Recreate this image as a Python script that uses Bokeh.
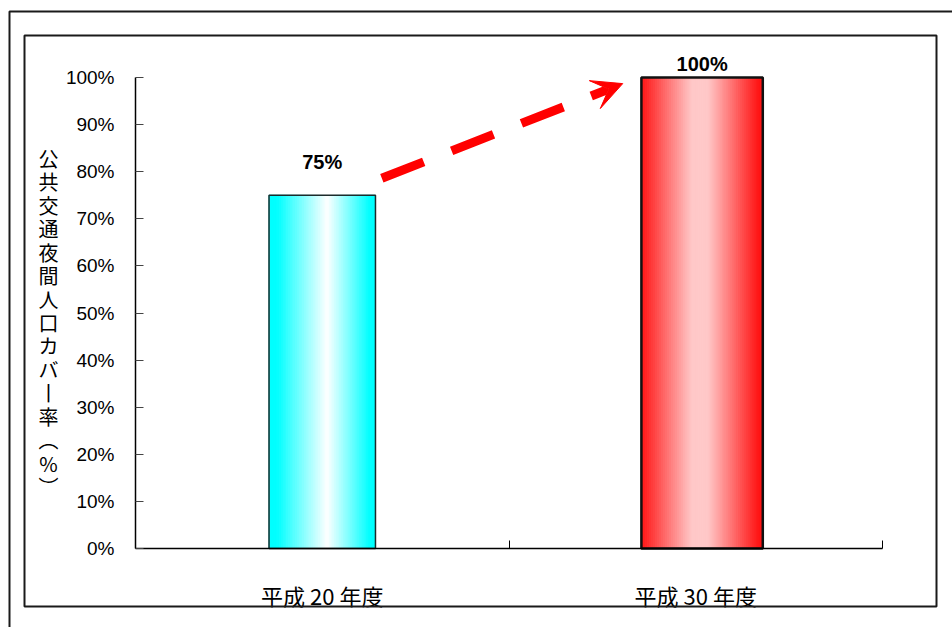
import numpy as np
from bokeh.plotting import figure
from bokeh.models import (Range1d, FixedTicker, PrintfTickFormatter, Arrow, VeeHead,
                          Label, LabelSet, BoxAnnotation, ColumnDataSource)
from bokeh.core.properties import value
from bokeh.embed import file_html
from bokeh.resources import INLINE

# --- data -------------------------------------------------------------
categories = ["平成 20 年度", "平成 30 年度"]
coverage = [75, 100]                       # %
value_labels = ["75%", "100%"]
y_ticks = [0, 10, 20, 30, 40, 50, 60, 70, 80, 90, 100]
y_title = "公共交通夜間人口カバー率（%）"

# --- styling ----------------------------------------------------------
NUM_FONT = "Liberation Sans"
JP_FONT = "Noto Sans CJK JP"
W, H = 952, 627
AX_LEFT, AX_RIGHT = 135, 882       # pixel columns of the category axis ends
AX_TOP, AX_ZERO = 77, 548          # pixel rows of the top tick and of zero
bar_width = [0.285, 0.325]
bar_shift = [0.0, 0.017]
bar_line_width = [1.5, 2.5]
bar_line_color = ["#1c2b2b", "#111111"]
label_offset = [33, 14]
gradients = [
    [(0.0, (0, 255, 255)), (0.08, (0, 255, 255)), (0.55, (255, 255, 255)),
     (0.95, (0, 255, 255)), (1.0, (0, 255, 255))],
    [(0.0, (255, 20, 20)), (0.42, (255, 200, 200)), (0.55, (255, 200, 200)),
     (0.97, (255, 20, 20)), (1.0, (255, 20, 20))],
]
N_STRIPS = 60


def grad_color(stops, t):
    for (t0, c0), (t1, c1) in zip(stops[:-1], stops[1:]):
        if t0 <= t <= t1:
            f = 0.0 if t1 == t0 else (t - t0) / (t1 - t0)
            r, g, b = (int(round(a + (bb - a) * f)) for a, bb in zip(c0, c1))
            return f"#{r:02x}{g:02x}{b:02x}"
    r, g, b = stops[-1][1]
    return f"#{r:02x}{g:02x}{b:02x}"


n = len(categories)
y_max = y_ticks[-1]
centers = [i + 0.5 + s for i, s in enumerate(bar_shift)]

# the plotting frame spans the whole canvas; the axes sit at fixed locations
xs = (AX_RIGHT - AX_LEFT) / n
ys = (AX_ZERO - AX_TOP) / y_max
x_range = Range1d(-AX_LEFT / xs, n + (W - AX_RIGHT) / xs)
y_range = Range1d(-(H - AX_ZERO) / ys, y_max + AX_TOP / ys)

p = figure(width=W, height=H, output_backend="svg", toolbar_location=None,
           x_range=x_range, y_range=y_range, min_border=0)
p.title.visible = False
p.outline_line_color = None
p.grid.visible = False
p.background_fill_color = "white"
p.border_fill_color = "white"

# gradient-filled bars drawn as thin vertical strips
for k in range(n):
    left = centers[k] - bar_width[k] / 2
    edges = np.linspace(left, left + bar_width[k], N_STRIPS + 1)
    ts = (np.arange(N_STRIPS) + 0.5) / N_STRIPS
    cols = [grad_color(gradients[k], t) for t in ts]
    p.quad(left=edges[:-1], right=edges[1:], bottom=0, top=coverage[k],
           fill_color=cols, line_color=cols, line_width=1)

bars = ColumnDataSource(dict(x=centers, top=coverage, w=bar_width,
                             lw=bar_line_width, lc=bar_line_color))
p.vbar(x="x", top="top", width="w", bottom=0, source=bars, fill_color=None,
       line_color="lc", line_width="lw")

# value labels
lab_src = ColumnDataSource(dict(x=centers, y=coverage, text=value_labels,
                                off=label_offset))
p.add_layout(LabelSet(x="x", y="y", text="text", y_offset="off", source=lab_src,
                      text_align="center", text_baseline="middle",
                      text_font=value(NUM_FONT), text_font_style="bold",
                      text_font_size="20px", text_color="black"))

# trend arrow from the first bar to the second
x_start = centers[0] + bar_width[0] / 2 + 0.017
x_end = centers[1] - bar_width[1] / 2 - 0.05
p.add_layout(Arrow(x_start=x_start, y_start=coverage[0] + 3.6,
                   x_end=x_end, y_end=coverage[1] - 1.3,
                   line_color="#ff0000", line_width=9, line_dash="45 30",
                   line_cap="butt",
                   end=VeeHead(size=30, fill_color="#ff0000", line_color="#ff0000",
                               line_width=1)))

# axes
p.yaxis.fixed_location = 0
p.yaxis.bounds = (0, y_max)
p.yaxis.ticker = FixedTicker(ticks=y_ticks)
p.yaxis.formatter = PrintfTickFormatter(format="%d%%")
p.yaxis.major_tick_in = 8
p.yaxis.major_tick_out = 0
p.yaxis.major_tick_line_color = "#444444"
p.yaxis.minor_tick_line_color = None
p.yaxis.axis_line_color = "black"
p.yaxis.axis_line_width = 1.5
p.yaxis.major_label_standoff = 21
p.yaxis.major_label_text_font = NUM_FONT
p.yaxis.major_label_text_font_size = "19px"
p.yaxis.major_label_text_color = "black"

p.xaxis.fixed_location = 0
p.xaxis.bounds = (0, n)
p.xaxis.ticker = FixedTicker(ticks=[i + 0.5 for i in range(n)],
                             minor_ticks=list(range(n + 1)))
p.xaxis.major_label_overrides = {i + 0.5: c for i, c in enumerate(categories)}
p.xaxis.major_tick_line_color = None
p.xaxis.minor_tick_in = 8
p.xaxis.minor_tick_out = 0
p.xaxis.minor_tick_line_color = "black"
p.xaxis.axis_line_color = "black"
p.xaxis.axis_line_width = 1.5
p.xaxis.major_label_standoff = 24
p.xaxis.major_label_text_font = JP_FONT
p.xaxis.major_label_text_font_size = "22px"
p.xaxis.major_label_text_color = "black"

# vertical (upright) axis title
vert_map = {"（": "︵", "）": "︶", "ー": "丨"}
p.add_layout(Label(x=48, y=322, x_units="canvas", y_units="canvas",
                   text="\n".join(vert_map.get(ch, ch) for ch in y_title),
                   text_align="center", text_baseline="middle",
                   text_font=JP_FONT, text_font_size="20px",
                   text_line_height=0.81, text_color="black"))

# outer and inner frames
for l, t, r, b in [(9, 11, 980, 660), (24, 35, 936, 606)]:
    p.add_layout(BoxAnnotation(left=l, right=r, top=t, bottom=b,
                               left_units="canvas", right_units="canvas",
                               top_units="canvas", bottom_units="canvas",
                               fill_color=None, line_color="#1a1a1a",
                               line_alpha=1.0, line_width=2))

open("out.html", "w").write(file_html(p, INLINE))
